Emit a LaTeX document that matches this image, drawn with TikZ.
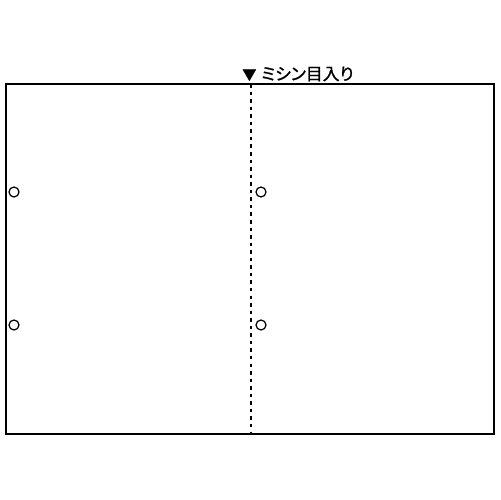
\documentclass[tikz,border=0pt]{standalone}
\usepackage{fontspec}
\newfontfamily\jpfont[RawFeature=+palt, FakeBold=1.2]{Noto Sans CJK JP}
\usetikzlibrary{calc}

\begin{document}
\begin{tikzpicture}[x=0.02cm, y=-0.02cm]
\tikzset{
	sheet/.style={draw, line width=0.8pt},
	perf/.style={line width=0.8pt, dash pattern=on 2pt off 2.3pt},
	hole/.style={draw, circle, line width=0.7pt, minimum size=0.2cm, inner sep=0pt}
}
\useasboundingbox (0,0) rectangle (500,500);
\draw[sheet] (6,84) rectangle (494,434);
\coordinate (ptop) at (251,84);
\coordinate (pbot) at (251,434);
\draw[perf] (ptop) -- (pbot);
\node[anchor=base west, inner sep=0pt, font=\jpfont\fontsize{9.6}{9.6}\selectfont] (lbl) at (242,80) {{\fontsize{8}{8}\selectfont ▼}\hspace{2.8pt}ミシン目入り};
\foreach \j in {14,261}{
	\node[hole] (h\j a) at (\j,192) {};
	\node[hole] (h\j b) at (\j,325) {};
	}
\end{tikzpicture}
\end{document}
